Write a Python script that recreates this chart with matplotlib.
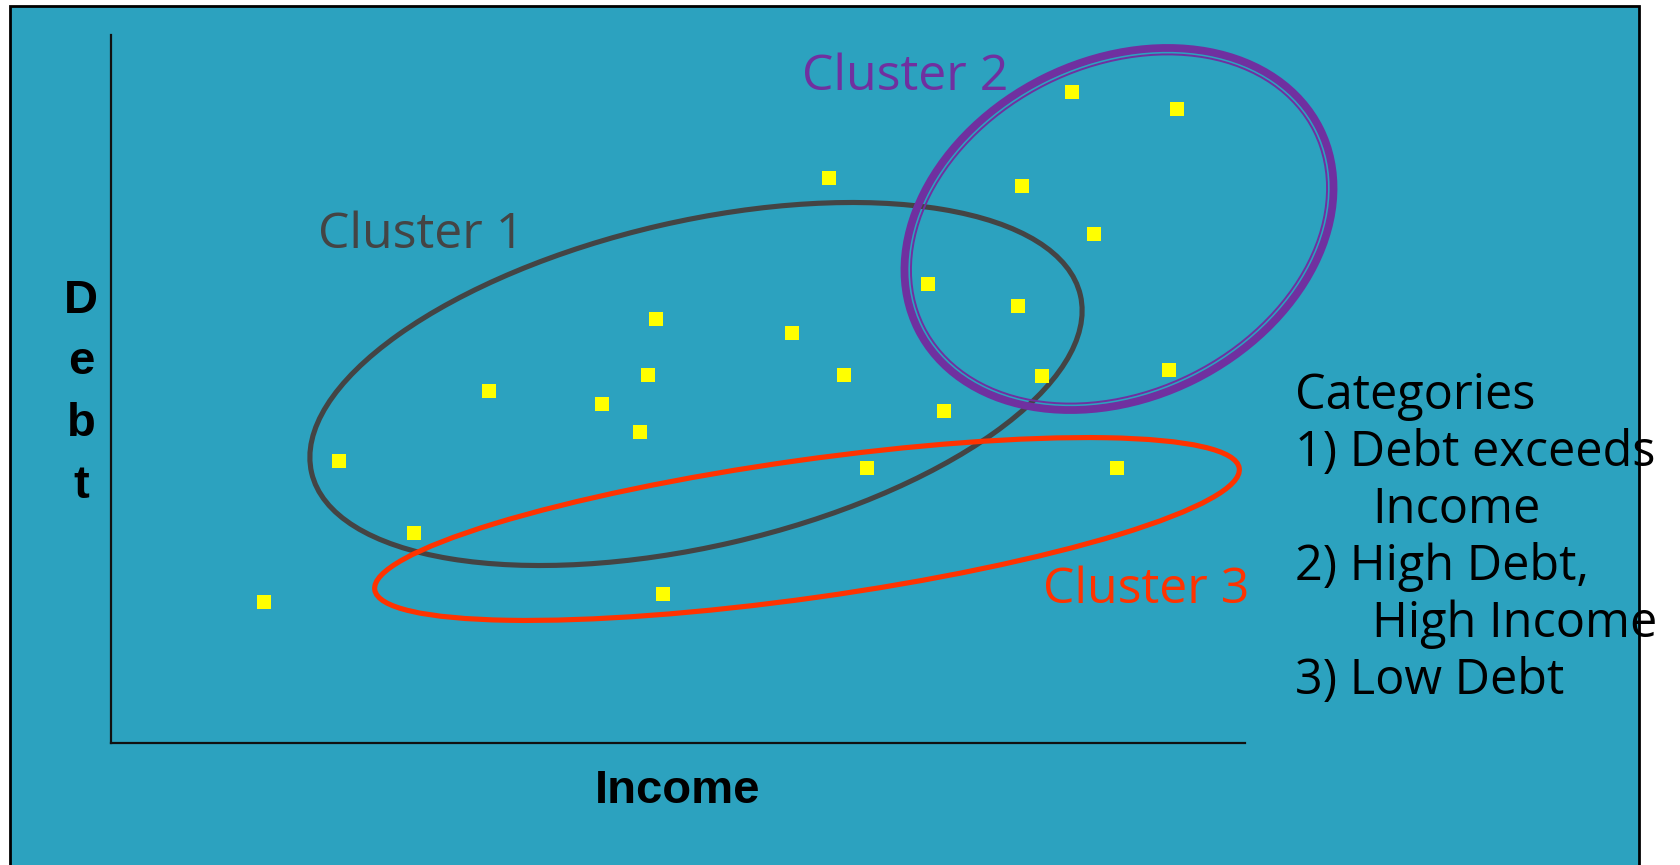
import matplotlib
matplotlib.use("Agg")
import matplotlib.pyplot as plt
from matplotlib.patches import Ellipse, Rectangle

W, H = 1681, 865

# customers (income, debt), arbitrary units
income = [153, 228, 303, 378, 491, 529, 537, 545, 552, 681, 718, 733,
          756, 817, 833, 907, 911, 931, 961, 983, 1006, 1058, 1066]
debt = [141, 282, 210, 352, 339, 311, 368, 424, 149, 410, 565, 368,
        275, 459, 332, 437, 557, 367, 651, 509, 275, 373, 634]

# cluster outlines: centre, width, height, angle
cluster_names = ["Cluster 1", "Cluster 2", "Cluster 3"]
cluster_centers = [(585, 359), (1008, 514), (696, 214)]
cluster_widths = [789, 449, 873]
cluster_heights = [325, 337, 138]
cluster_angles = [13, 26.5, 8]
cluster_label_pos = [(207, 495), (691, 653), (932, 140)]
cluster_colors = ["#444444", "#7030A0", "#FF3300"]

categories = ["Categories", "1) Debt exceeds", "Income", "2) High Debt,",
              "High Income", "3) Low Debt"]
indented = [False, False, True, False, True, False]

teal = "#2CA2BF"


def px(x, y):
    # pixel position -> figure fraction
    return x / W, 1 - y / H


fig = plt.figure(figsize=(W / 100, H / 100), dpi=100)
fig.patch.set_facecolor("white")

# slide background
slide = Rectangle((10 / W, -0.05), (1639 - 10) / W, 1.05 - 6 / H,
                  transform=fig.transFigure, facecolor=teal,
                  edgecolor="black", linewidth=2.0, zorder=-10)
fig.patches.append(slide)

ax = fig.add_axes([111 / W, (H - 743) / H, 1134 / W, 708 / H])
ax.set_zorder(1)
ax.set_facecolor("none")
ax.set_xlim(0, 1134)
ax.set_ylim(0, 708)
for s in ["top", "right"]:
    ax.spines[s].set_visible(False)
for s in ["left", "bottom"]:
    ax.spines[s].set_linewidth(1.6)
    ax.spines[s].set_color("#111111")
ax.set_xticks([])
ax.set_yticks([])

# cluster ellipses
for i in range(3):
    lw = 3.7 if i != 1 else 5.6
    e = Ellipse(cluster_centers[i], cluster_widths[i], cluster_heights[i],
                angle=cluster_angles[i], fill=False,
                edgecolor=cluster_colors[i], linewidth=lw, clip_on=False)
    ax.add_patch(e)
# cluster 2 has a thin inner ring too
e = Ellipse(cluster_centers[1], cluster_widths[1] - 13, cluster_heights[1] - 13,
            angle=cluster_angles[1], fill=False, edgecolor=cluster_colors[1],
            linewidth=1.4, clip_on=False)
ax.add_patch(e)

ax.plot(income, debt, "s", color="#FFFF00", markersize=10.5,
        markeredgewidth=0, clip_on=False, zorder=5)

for i in range(3):
    ax.text(cluster_label_pos[i][0], cluster_label_pos[i][1], cluster_names[i],
            color=cluster_colors[i], fontsize=36, family="Open Sans",
            ha="left", va="baseline")

# axis labels
x, y = px(678, 803)
fig.text(x, y, "Income", fontsize=34, fontweight="bold",
         family="Liberation Sans", ha="center", va="baseline")
for i, ch in enumerate("Debt"):
    x, y = px(81, 313 + i * 61.5)
    fig.text(x, y, ch, fontsize=34, fontweight="bold",
             family="Liberation Sans", ha="center", va="baseline")

# categories list on the right
for i, line in enumerate(categories):
    xx = 1372 if indented[i] else 1295
    x, y = px(xx, 409 + i * 57)
    fig.text(x, y, line, fontsize=35, family="Open Sans", color="black",
             ha="left", va="baseline")

fig.savefig("out.png", dpi=100)
